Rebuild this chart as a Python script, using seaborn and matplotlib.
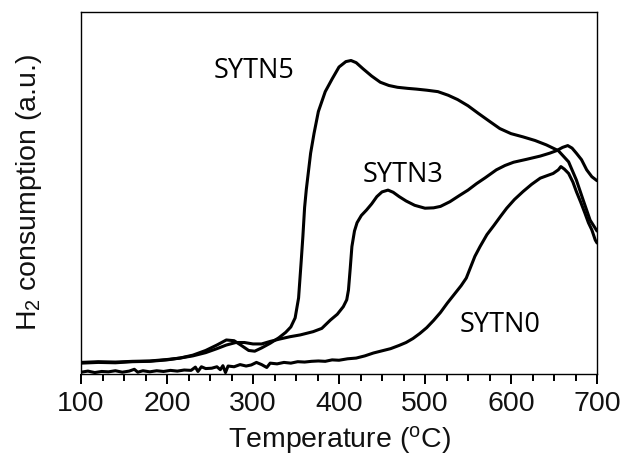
import matplotlib
matplotlib.use("Agg")
import matplotlib.pyplot as plt
import matplotlib.transforms as mtransforms
from matplotlib.ticker import MultipleLocator
import numpy as np
import seaborn as sns

# H2-TPR profiles (arbitrary units) versus temperature in degrees C
t_sytn5 = [100, 120, 140, 160, 180, 200, 215, 230, 245, 258, 269, 278, 287, 295, 302,
           310, 320, 330, 338, 344, 349, 353, 356, 358, 360, 362, 364, 367, 371, 376,
           384, 392, 400, 408, 414, 420, 428, 438, 448, 458, 468, 480, 490, 502, 515,
           527, 538, 550, 562, 575, 587, 600, 614, 628, 641, 655, 667, 676, 684, 692, 700]
h_sytn5 = [3.2, 3.4, 3.3, 3.5, 3.6, 4.0, 4.4, 5.2, 6.5, 8.0, 9.4, 9.2, 7.8, 6.5, 6.3,
           7.2, 8.5, 10.0, 11.5, 13.0, 15.5, 21.0, 31.0, 38.0, 46.0, 51.0, 55.0, 61.0, 66.5, 72.5,
           78.0, 81.5, 84.8, 86.3, 86.6, 86.0, 84.3, 82.3, 80.6, 79.7, 79.2, 78.9, 78.7, 78.4, 78.0,
           77.0, 75.8, 74.1, 72.0, 69.8, 67.8, 66.4, 65.5, 64.5, 63.3, 61.7, 58.6, 53.6, 48.0, 42.5, 39.5]

t_sytn3 = [100, 120, 140, 160, 180, 200, 215, 230, 245, 258, 269, 280, 290, 300, 310,
           320, 330, 343, 355, 370, 380, 390, 398, 405, 409, 411, 413, 415, 418, 421,
           426, 432, 438, 444, 450, 457, 463, 470, 478, 488, 500, 510, 518, 529, 540,
           550, 560, 570, 583, 593, 603, 618, 634, 645, 653, 660, 666, 671, 676, 682,
           688, 694, 700]
h_sytn3 = [3.0, 3.2, 3.1, 3.4, 3.5, 3.9, 4.4, 5.0, 5.9, 7.0, 8.0, 8.7, 8.7, 8.3, 8.3,
           9.0, 9.6, 10.3, 10.8, 11.7, 12.6, 14.9, 16.5, 18.6, 20.5, 23.2, 29.0, 35.2, 39.5, 41.8,
           43.8, 45.3, 47.0, 49.0, 50.3, 50.8, 50.2, 49.0, 47.8, 46.6, 45.8, 45.9, 46.3, 47.6, 49.3,
           50.8, 52.6, 54.2, 56.4, 57.6, 58.5, 59.3, 60.2, 61.0, 61.7, 62.6, 63.1, 62.4, 61.0, 59.2,
           56.4, 54.5, 53.4]

t_sytn0 = [100, 108, 116, 124, 132, 140, 148, 156, 162, 166, 172, 180, 188, 196, 204,
           212, 220, 228, 233, 236, 240, 245, 252, 258, 262, 265, 268, 271, 278, 285,
           292, 298, 304, 310, 316, 320, 328, 336, 344, 352, 360, 368, 376, 384, 392,
           400, 410, 420, 430, 440, 450, 460, 470, 478, 486, 494, 502, 510, 518, 526,
           534, 542, 548, 553, 558, 564, 572, 580, 588, 595, 604, 614, 624, 634, 642,
           649, 655, 658, 662, 667, 672, 676, 681, 686, 690, 694, 698, 700]
h_sytn0 = [0.5, 0.8, 0.4, 0.7, 0.6, 0.9, 0.5, 0.8, 1.3, 0.5, 0.9, 0.6, 0.9, 0.7, 1.0,
           0.8, 1.1, 1.0, 1.9, 0.7, 2.0, 1.5, 1.6, 2.0, 1.2, 2.3, 0.4, 2.2, 2.0, 2.6,
           2.2, 2.5, 3.2, 2.6, 1.8, 3.0, 2.8, 3.2, 3.0, 3.4, 3.3, 3.5, 3.6, 3.5, 3.9,
           3.8, 4.2, 4.4, 5.0, 5.8, 6.4, 7.0, 7.9, 8.7, 9.8, 11.2, 12.8, 14.8, 17.0, 19.6,
           22.0, 24.4, 26.5, 29.5, 32.5, 35.2, 38.5, 41.0, 43.6, 45.8, 48.2, 50.4, 52.4, 54.1, 54.8,
           55.4, 56.4, 57.3, 56.6, 55.4, 53.0, 50.4, 47.5, 44.4, 41.8, 39.8, 37.0, 36.2]

samples = ["SYTN5", "SYTN3", "SYTN0"]
label_temp = [301, 474, 587]
label_height = [83.7, 55.0, 13.5]

x_ticks = [100, 200, 300, 400, 500, 600, 700]
minor_step = 25

sns.set_theme(style="ticks", rc={
    "xtick.bottom": True,
    "xtick.direction": "out",
    "xtick.major.size": 7,
    "xtick.minor.size": 5,
    "xtick.major.width": 1.3,
    "xtick.minor.width": 1.3,
    "xtick.major.pad": 5,
    "xtick.color": "black",
    "xtick.labelcolor": "#111111",
    "xtick.labelsize": 20.5,
    "ytick.left": False,
    "ytick.labelleft": False,
    "axes.edgecolor": "black",
    "axes.linewidth": 1.0,
})
plt.rcParams["font.family"] = ["Liberation Sans", "DejaVu Sans"]
plt.rcParams["mathtext.fontset"] = "custom"
plt.rcParams["mathtext.rm"] = "Liberation Sans"
plt.rcParams["mathtext.it"] = "Liberation Sans"

fig = plt.figure(figsize=(6.2, 4.59), dpi=100)
ax = fig.add_axes([81 / 620, 1 - 374 / 459, 516 / 620, 362 / 459])

for t, h in [(t_sytn5, h_sytn5), (t_sytn3, h_sytn3), (t_sytn0, h_sytn0)]:
    sns.lineplot(x=t, y=h, color="black", linewidth=2.2, ax=ax, legend=False)

for name, tx, ty in zip(samples, label_temp, label_height):
    ax.text(tx, ty, name, ha="center", va="center", fontsize=19.5,
            family=["Open Sans", "DejaVu Sans"], color="black")

ax.set_xlim(x_ticks[0], x_ticks[-1])
ax.set_ylim(0, 100)
ax.set_xticks(x_ticks)
ax.xaxis.set_minor_locator(MultipleLocator(minor_step))
ax.set_yticks([])

# outward tick marks along the bottom spine, major and minor
tick_tr = mtransforms.blended_transform_factory(ax.transData, ax.transAxes)
minor_pos = [v for v in np.arange(x_ticks[0], x_ticks[-1] + 1, minor_step) if v not in x_ticks]
ax.vlines(x_ticks, -9.7 / 362, 0, transform=tick_tr, colors="black", linewidth=1.3, clip_on=False)
ax.vlines(minor_pos, -7.0 / 362, 0, transform=tick_tr, colors="black", linewidth=1.3, clip_on=False)

# axis titles
ax.text(0.5, -0.182, r"Temperature ($^{\mathregular{o}}$C)", transform=ax.transAxes,
        ha="center", va="center", fontsize=20.5, color="#111111")
ax.text(-0.101, 0.5, r"H$_{\mathregular{2}}$ consumption (a.u.)", transform=ax.transAxes,
        ha="center", va="center", rotation=90, fontsize=20.5, color="#111111")

fig.savefig("out.png", dpi=100)
